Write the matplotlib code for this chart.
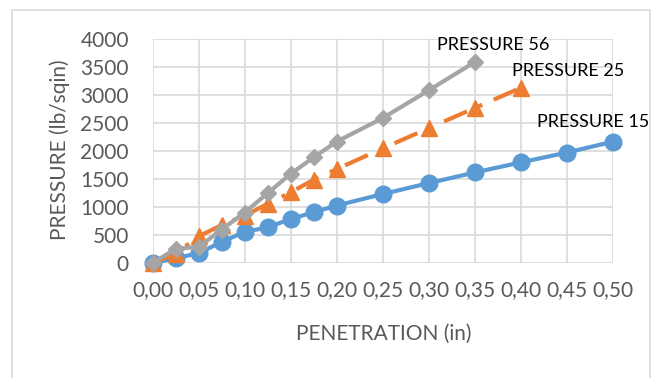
import matplotlib.pyplot as plt
from matplotlib.patches import Rectangle

# Penetration readings (in) and the measured pressures (lb/sqin)
pen_15 = [0, 0.025, 0.05, 0.075, 0.1, 0.125, 0.15, 0.175, 0.2, 0.25, 0.3, 0.35, 0.4, 0.45, 0.5]
pres_15 = [0, 90, 180, 380, 560, 640, 790, 910, 1030, 1235, 1430, 1620, 1800, 1975, 2170]

pen_25 = [0, 0.025, 0.05, 0.075, 0.1, 0.125, 0.15, 0.175, 0.2, 0.25, 0.3, 0.35, 0.4]
pres_25 = [0, 170, 480, 680, 850, 1060, 1265, 1490, 1680, 2050, 2410, 2770, 3130]

pen_56 = [0, 0.025, 0.05, 0.075, 0.1, 0.125, 0.15, 0.175, 0.2, 0.25, 0.3, 0.35]
pres_56 = [0, 260, 290, 600, 905, 1250, 1595, 1890, 2170, 2590, 3085, 3590]

x_ticks = [0, 0.05, 0.1, 0.15, 0.2, 0.25, 0.3, 0.35, 0.4, 0.45, 0.5]
y_ticks = [0, 500, 1000, 1500, 2000, 2500, 3000, 3500, 4000]

BLUE = '#5B9BD5'
ORANGE = '#ED7D31'
GRAY = '#A5A5A5'
TXT = '#595959'

plt.rcParams['font.family'] = ['Lato', 'DejaVu Sans']

W, H = 660, 378
fig = plt.figure(figsize=(W / 100, H / 100), dpi=100)
ax = fig.add_axes([152.5 / W, 1 - 263.3 / H, (613 - 152.5) / W, (263.3 - 39) / H])

# outer chart border
fig.patches.append(Rectangle((11.5 / W, -0.1), (650 - 11.5) / W, 1.1 - 9.5 / H,
                             transform=fig.transFigure, fill=False,
                             edgecolor='#d9d9d9', linewidth=1.2))

ax.plot(pen_15, pres_15, color=BLUE, lw=3, marker='o', ms=12, clip_on=False, zorder=3)
ax.plot(pen_25, pres_25, color=ORANGE, lw=3, marker='^', ms=12, clip_on=False, zorder=4,
        dashes=(6, 3, 1, 3))
ax.plot(pen_56, pres_56, color=GRAY, lw=3, marker='D', ms=8.5, clip_on=False, zorder=5)

# series labels next to the last point of each curve
ax.annotate('PRESSURE 56', (pen_56[-1], pres_56[-1]), xytext=(18, 17),
            textcoords='offset pixels', ha='center', va='center', fontsize=13)
ax.annotate('PRESSURE 25', (pen_25[-1], pres_25[-1]), xytext=(47, 17),
            textcoords='offset pixels', ha='center', va='center', fontsize=13)
ax.annotate('PRESSURE 15', (pen_15[-1], pres_15[-1]), xytext=(-20, 20),
            textcoords='offset pixels', ha='center', va='center', fontsize=13)

ax.set_xlim(0, 0.5)
ax.set_ylim(0, 4000)
ax.set_xticks(x_ticks)
ax.set_xticklabels([f'{v:.2f}'.replace('.', ',') for v in x_ticks])
ax.set_yticks(y_ticks)
ax.grid(True, color='#d9d9d9', linewidth=1.2)
ax.set_axisbelow(True)
for s in ax.spines.values():
    s.set_visible(False)
ax.tick_params(length=0, labelsize=15, labelcolor=TXT)
ax.tick_params(axis='x', pad=12.4)
ax.tick_params(axis='y', pad=17)

# axis titles
fig.text(384 / W, 1 - 334 / H, 'PENETRATION (in)', fontsize=15, color=TXT,
         ha='center', va='center')
fig.text(60 / W, 1 - 149.5 / H, 'PRESSURE (lb/sqin)', fontsize=15, color=TXT,
         ha='center', va='center', rotation=90)

fig.savefig('out.png', dpi=100)
